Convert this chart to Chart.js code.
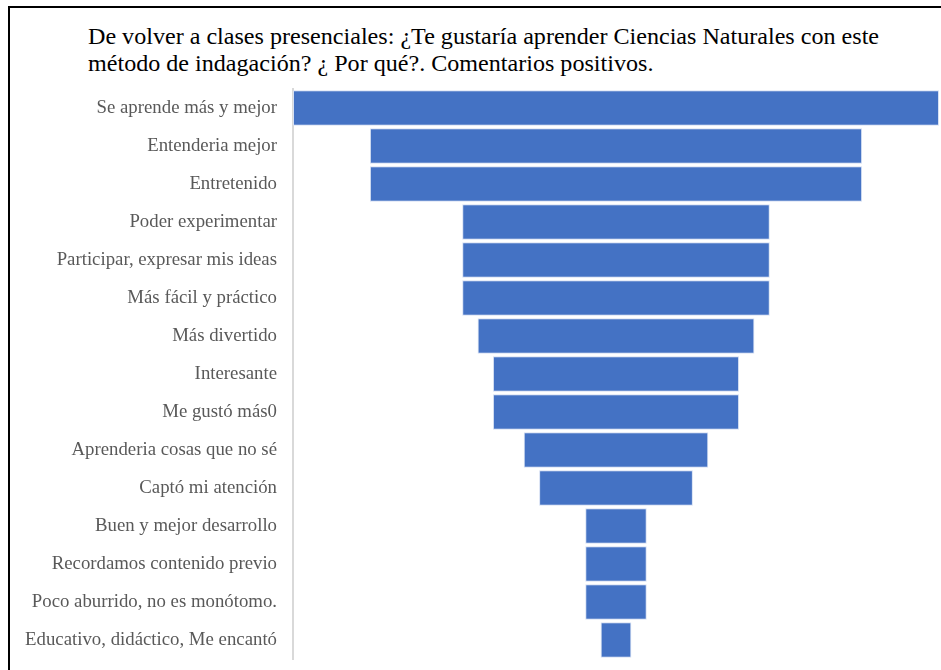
<!DOCTYPE html>
<html>
<head>
<meta charset="utf-8">
<script src="https://cdn.jsdelivr.net/npm/chart.js@4"></script>
<style>
  html, body { margin: 0; padding: 0; background: #fff; }
  #wrap { position: relative; width: 941px; height: 670px; overflow: hidden; }
  #frame { position: absolute; left: 8px; top: 6px; width: 960px; height: 700px;
           border-left: 2px solid #000; border-top: 2px solid #000; box-sizing: border-box; }
  #titulo { position: absolute; left: 88px; top: 23px; font-family: "Liberation Serif", serif;
            font-size: 24.1px; line-height: 27px; color: #000; white-space: nowrap; }
  canvas { position: absolute; left: 0; top: 0; }
</style>
</head>
<body>
<div id="wrap">
  <div id="frame"></div>
  <div id="titulo">De volver a clases presenciales: ¿Te gustaría aprender Ciencias Naturales con este<br>método de indagación? ¿ Por qué?. Comentarios positivos.</div>
  <canvas id="embudo" width="941" height="670"></canvas>
</div>
<script>
// categorias y frecuencias
const categorias = [
  "Se aprende más y mejor",
  "Entenderia mejor",
  "Entretenido",
  "Poder experimentar",
  "Participar, expresar mis ideas",
  "Más fácil y práctico",
  "Más divertido",
  "Interesante",
  "Me gustó más0",
  "Aprenderia cosas que no sé",
  "Captó mi atención",
  "Buen y mejor desarrollo",
  "Recordamos contenido previo",
  "Poco aburrido, no es monótomo.",
  "Educativo, didáctico, Me encantó"
];
const valores = [21, 16, 16, 10, 10, 10, 9, 8, 8, 6, 5, 2, 2, 2, 1];

const maximo = Math.max(...valores);
// barras centradas para formar el embudo
const tramos = valores.map(v => [(maximo - v) / 2, (maximo + v) / 2]);

new Chart(document.getElementById("embudo"), {
  type: "bar",
  data: {
    labels: categorias,
    datasets: [{
      data: tramos,
      backgroundColor: "#4472C4",
      borderColor: "#d6e0f3",
      borderWidth: 1,
      borderSkipped: false,
      barPercentage: 1,
      categoryPercentage: 0.93
    }]
  },
  options: {
    indexAxis: "y",
    responsive: false,
    animation: false,
    layout: { padding: { top: 89, bottom: 11, left: 0, right: 2 } },
    plugins: {
      legend: { display: false },
      tooltip: { enabled: false },
      title: { display: false }
    },
    scales: {
      x: { display: false, min: 0, max: maximo },
      y: {
        grid: { display: false, drawTicks: false },
        border: { display: true, color: "#d9d9d9", width: 2 },
        ticks: {
          padding: 16,
          color: "#595959",
          font: { family: "Liberation Serif", size: 18.8 }
        },
        afterFit: s => {
          s.width = 293;
          s.paddingTop = 0;
          s.paddingBottom = 0;
        }
      }
    }
  }
});
</script>
</body>
</html>
